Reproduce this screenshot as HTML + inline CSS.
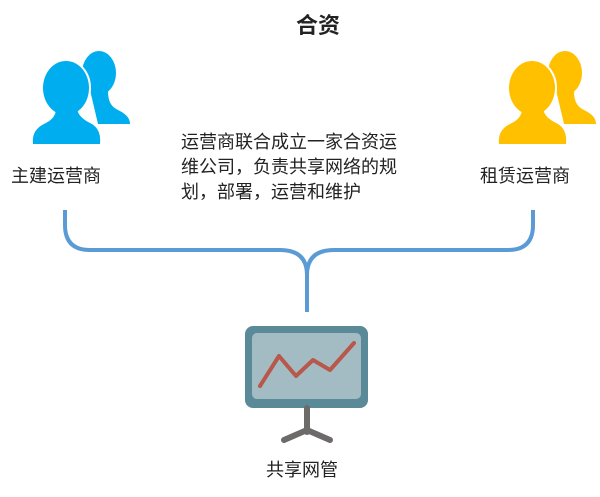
<!DOCTYPE html>
<html><head><meta charset="utf-8"><style>
body{margin:0;width:600px;height:497px;background:#fff;position:relative;font-family:"Liberation Sans","Noto Sans CJK SC",sans-serif;overflow:hidden}
.t{position:absolute;color:#222;font-size:18px;white-space:nowrap}
</style></head><body>
<svg width="600" height="497" style="position:absolute;left:0;top:0">
<defs>
<g id="back">
<ellipse cx="99" cy="73" rx="17" ry="22"/>
<path d="M90,90 L108,90 C108,100 110,106 118,110 C126,114 130,118 130,124 L98,124 Z"/>
</g>
<g id="front">
<ellipse cx="66" cy="88" rx="23" ry="27"/>
<path d="M56,108 L77,108 C78,116 84,120 92,124 C98,128 101,134 100,144 L33,144 C32,134 36,128 44,124 C52,120 56,116 56,108 Z"/>
</g>
</defs>
<g fill="#00aeef"><use href="#back"/></g>
<g fill="#00aeef" stroke="#fff" stroke-width="4"><use href="#front"/></g>
<g fill="#00aeef"><use href="#front"/></g>
<g transform="translate(466,0)">
<g fill="#ffc000"><use href="#back"/></g>
<g fill="#ffc000" stroke="#fff" stroke-width="4"><use href="#front"/></g>
<g fill="#ffc000"><use href="#front"/></g>
</g>
<path d="M65,210 L65,225 Q65,250 90,250 L280,250 Q307,250 307,275 L307,312 M533,210 L533,225 Q533,250 508,250 L334,250 Q307,250 307,275" stroke="#5b9bd5" stroke-width="4" fill="none"/>
<rect x="245" y="326" width="123" height="82" rx="8" fill="#5a8a98"/>
<rect x="252" y="333" width="109" height="66" rx="5" fill="#a3bcc4"/>
<polyline points="260,386 279,356 296,376 313,360 330,370 354,343" stroke="#b8574a" stroke-width="4" fill="none" stroke-linecap="round" stroke-linejoin="round"/>
<path d="M307,408 L307,432 M284,440 L307,430 L330,440" stroke="#6d6a6a" stroke-width="6" fill="none" stroke-linecap="round"/>
</svg>
<div class="t" style="left:296px;top:8px;font-size:22px;font-weight:bold">合资</div>
<div class="t" style="left:11px;top:162px">主建运营商</div>
<div class="t" style="left:480px;top:162px">租赁运营商</div>
<div class="t" style="left:181px;top:130px;line-height:25px">运营商联合成立一家合资运<br>维公司，负责共享网络的规<br>划，部署，运营和维护</div>
<div class="t" style="left:266px;top:456px">共享网管</div>
</body></html>
